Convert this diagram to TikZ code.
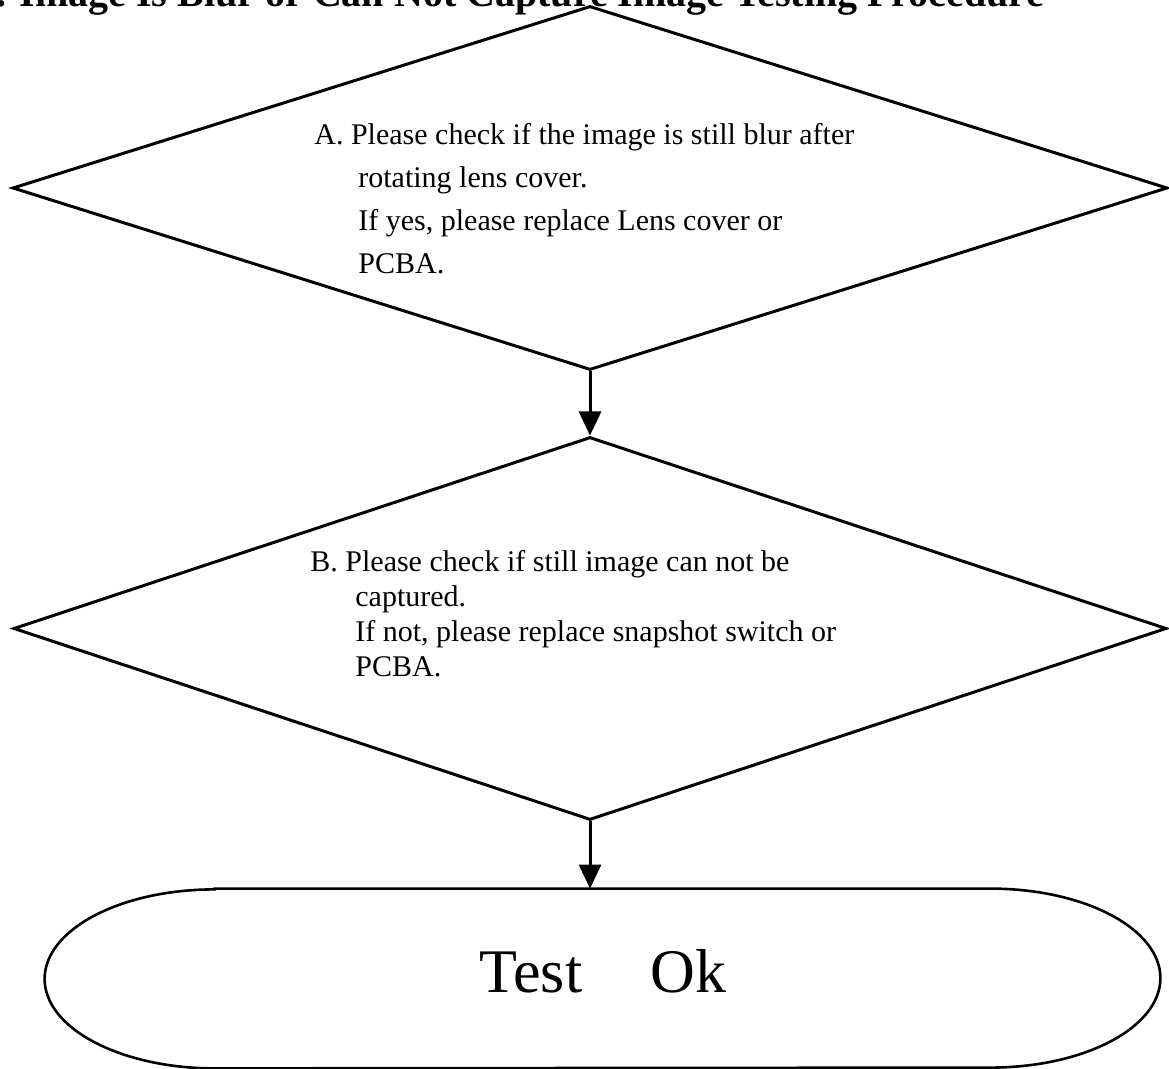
\documentclass[tikz,border=0pt]{standalone}
\usepackage{fontspec}
\setmainfont{Liberation Serif}
\usetikzlibrary{shapes.geometric,arrows.meta}

\begin{document}
\begin{tikzpicture}[x=0.5pt, y=-0.5pt,
	checkbox/.style={draw, diamond, line width=1.5pt, inner sep=0pt},
	steptext/.style={anchor=north west, inner sep=0pt, align=left},
	flow/.style={line width=1.5pt, -{Triangle[length=12pt, width=11pt]}}]
				\useasboundingbox (0,0) rectangle (1169,1069);
				\node[anchor=base west, inner sep=0pt, font=\bfseries\fontsize{20}{24}\selectfont] (title) at (-4,7) {. Image Is Blur or Can Not Capture Image Testing Procedure};
				\node[checkbox, minimum width=577.5pt, minimum height=182pt] (A) at (590,188) {};
				\node[checkbox, minimum width=576.5pt, minimum height=191.5pt] (B) at (590,628.5) {};
				\node[steptext, font=\fontsize{15}{21.5}\selectfont] (textA) at (314,123) {A. Please check if the image is still blur after\\
					\hspace*{22pt}rotating lens cover.\\
					\hspace*{22pt}If yes, please replace Lens cover or\\
					\hspace*{22pt}PCBA.};
				\node[steptext, font=\fontsize{15}{17.5}\selectfont] (textB) at (310,550) {B. Please check if still image can not be\\
					\hspace*{22.5pt}captured.\\
					\hspace*{22.5pt}If not, please replace snapshot switch or\\
					\hspace*{22.5pt}PCBA.};
				\node[minimum width=557.5pt, minimum height=89.5pt, inner sep=0pt] (ok) at (602.5,978.5) {};
				\node[anchor=base, inner sep=0pt, font=\fontsize{31}{36}\selectfont] (oktext) at (603,993) {Test\hspace{1.1em}Ok};
				\draw[line width=1.3pt] ([xshift=85pt]ok.north west) -- ([xshift=-85pt]ok.north east)
					arc[start angle=90, end angle=-90, x radius=85pt, y radius=44.75pt]
					-- ([xshift=85pt]ok.south west)
					arc[start angle=270, end angle=90, x radius=85pt, y radius=44.75pt] -- cycle;
				\draw[flow] (A.south) -- (B.north);
				\draw[flow] (B.south) -- (B.south |- ok.north);
			\end{tikzpicture}
\end{document}
